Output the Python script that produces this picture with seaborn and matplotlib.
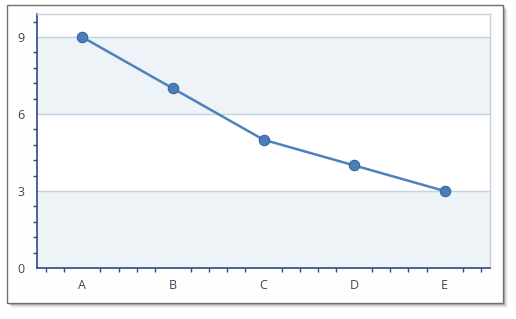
import matplotlib
matplotlib.use("Agg")
import matplotlib.pyplot as plt
from matplotlib.patches import Rectangle
from matplotlib.ticker import MultipleLocator
import seaborn as sns
import pandas as pd

categories = ["A", "B", "C", "D", "E"]
values = [9, 7, 5, 4, 3]
y_ticks = [0, 3, 6, 9]

sns.set_style("white")
plt.rcParams['font.family'] = ['Open Sans', 'DejaVu Sans']

W, H = 516, 319
fig = plt.figure(figsize=(W / 100, H / 100), dpi=100)
fig.patch.set_facecolor("white")

# frame with soft shadow
for i, a in enumerate([0.05, 0.09, 0.14, 0.22, 0.32]):
    off = 5 - i
    fig.patches.append(Rectangle(((7 + off) / W, 1 - (303 + off) / H), 496 / W, 298 / H,
                                 transform=fig.transFigure, facecolor=(0.3, 0.3, 0.3, a),
                                 edgecolor="none", zorder=0))
fig.patches.append(Rectangle((7 / W, 1 - 303 / H), 496 / W, 298 / H,
                             transform=fig.transFigure, facecolor="#FEFEFC",
                             edgecolor="#707070", linewidth=1.0, zorder=1))

ax = fig.add_axes([37 / W, 1 - 268 / H, (490 - 37) / W, (268 - 14) / H])
ax.set_facecolor("white")
ax.set_zorder(2)

df = pd.DataFrame({"cat": categories, "val": values})
ax.axhspan(0, 3, color="#EEF3F8", zorder=0, lw=0)
ax.axhspan(6, 9, color="#EEF3F8", zorder=0, lw=0)
for y in y_ticks[1:]:
    ax.axhline(y, color="#C3D2E3", lw=1.0, zorder=1)

sns.lineplot(data=df, x="cat", y="val", ax=ax, color="#4F81BD", linewidth=1.8,
             marker="o", markersize=7.5, markerfacecolor="#4A7EBB",
             markeredgecolor="#3A65A0", markeredgewidth=0.8, zorder=3)

ax.set_xlim(-0.5, 4.5)
ax.set_ylim(0, 9.9)
ax.set_yticks(y_ticks)
ax.xaxis.set_minor_locator(MultipleLocator(0.2))
ax.yaxis.set_minor_locator(MultipleLocator(0.6))
ax.set_xlabel("")
ax.set_ylabel("")

navy = "#2E4A86"
for s in ["left", "bottom"]:
    ax.spines[s].set_color(navy)
    ax.spines[s].set_linewidth(1.2)
for s in ["top", "right"]:
    ax.spines[s].set_color("#C3D2E3")
    ax.spines[s].set_linewidth(1.0)

ax.tick_params(axis="both", which="major", length=5, width=1.2, color=navy,
               labelsize=9, labelcolor="#3A4660", direction="out")
ax.tick_params(axis="both", which="minor", length=3, width=1.0, color=navy, direction="out")
ax.tick_params(axis="y", which="major", pad=4)
ax.tick_params(axis="x", which="major", pad=3)
ax.tick_params(top=False, right=False, which="both")
ax.tick_params(axis="x", which="minor", bottom=True)
ax.tick_params(axis="y", which="minor", left=True)

fig.savefig("out.png", dpi=100)
